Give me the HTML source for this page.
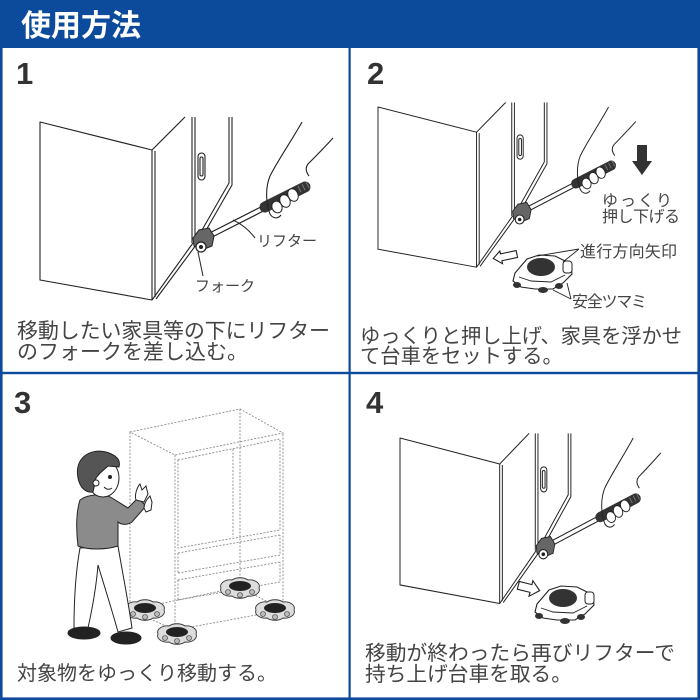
<!DOCTYPE html>
<html><head><meta charset="utf-8"><style>
html,body{margin:0;padding:0;background:#fff;}
svg{display:block;}
text{font-family:"Liberation Sans","Noto Sans CJK JP",sans-serif;}
.jp{font-family:"Noto Sans CJK JP","Liberation Sans",sans-serif;fill:#444;}
.num{font-family:"Liberation Sans",sans-serif;font-weight:bold;fill:#333;font-size:31px;}
</style></head><body>
<svg width="700" height="700" viewBox="0 0 700 700" xmlns="http://www.w3.org/2000/svg">
<defs>
  <g id="cab" fill="none" stroke="#222" stroke-width="1.1" stroke-linejoin="round">
    <path d="M40,122 L152,150 L152,300 L40,280 Z" fill="#fff"/>
    <path d="M155,151 L155,297"/>
    <path d="M152,150 L185,117"/>
    <path d="M192,117 L192,243"/>
    <path d="M195,117 L195,240"/>
    <path d="M229,117 L229,183 L198,237"/>
    <path d="M232,117 L232,185 L201,239"/>
    <path d="M152,300 L193,243"/>
    <path d="M156,299 L196,245"/>
    <rect x="198" y="153" width="7" height="27" rx="3.5"/>
    <rect x="200" y="157" width="3" height="19" rx="1.5"/>
  </g>
  <g id="lift">
    <path d="M302,122 C292,140 278,160 270,176 C265,188 266,204 270,214 C274,220 282,218 286,212 L300,198 C306,190 310,184 308,176 C306,170 306,167 308,164 C316,156 324,148 333,138 L333,110 L302,110 Z" fill="#fff" stroke="none"/>
    <line x1="207" y1="237" x2="266" y2="207" stroke="#222" stroke-width="6" stroke-linecap="round"/>
    <line x1="208" y1="236.5" x2="265" y2="207.5" stroke="#fff" stroke-width="3.6"/>
    <line x1="265" y1="207" x2="305" y2="187" stroke="#333" stroke-width="11" stroke-linecap="round"/>
    <path d="M298,186 l3,6 M302,184 l3,6 M306,182 l3,6" stroke="#777" stroke-width="1"/>
    <path d="M193,238 L199,230 L209,228 L214,236 L212,246 L202,250 L194,246 Z" fill="#666" stroke="#222" stroke-width="1"/>
    <circle cx="201" cy="247" r="5" fill="#fff" stroke="#222" stroke-width="1.2"/>
    <circle cx="201" cy="247" r="2" fill="#222"/>
    <g fill="#fff" stroke="#222" stroke-width="1">
      <ellipse cx="277" cy="207" rx="5" ry="6" transform="rotate(-25 277 207)"/>
      <ellipse cx="285" cy="201" rx="5" ry="6.5" transform="rotate(-25 285 201)"/>
      <ellipse cx="293" cy="195" rx="5" ry="6.5" transform="rotate(-25 293 195)"/>
    </g>
    <path d="M302,122 C292,140 278,160 270,176 C265,188 266,204 270,214 C273,219 278,219 281,215" fill="none" stroke="#222" stroke-width="1.1"/>
    <path d="M333,138 C324,148 316,156 308,164 C305,168 306,172 309,176" fill="none" stroke="#222" stroke-width="1.1"/>
  </g>
  <g id="dolly">
    <path d="M-28,14 L-26,6 L-14,-8 L-2,-12 L14,-11 L24,-6 L30,-2 L31,7 L22,16 L12,22 L-6,22 L-20,20 Z" fill="#fff" stroke="#222" stroke-width="1.1"/>
    <path d="M-22,10 L-10,14 L10,15 L24,8" fill="none" stroke="#222" stroke-width="0.9"/>
    <rect x="22" y="-6" width="9" height="12" rx="3" fill="#fff" stroke="#222" stroke-width="1"/>
    <ellipse cx="0" cy="0" rx="14" ry="9" fill="#333"/>
    <ellipse cx="-24" cy="18" rx="4" ry="3" fill="#333"/>
    <ellipse cx="2" cy="23" rx="5" ry="3" fill="#333"/>
    <ellipse cx="18" cy="19" rx="4" ry="3" fill="#333"/>
  </g>
  <g id="pdolly">
    <path d="M-19,0 C-21,-5 -14,-9 -8,-8 C-4,-11 4,-11 8,-8 C14,-9 21,-5 19,0 C21,5 14,9 8,8 C4,11 -4,11 -8,8 C-14,9 -21,5 -19,0 Z" fill="#ddd" stroke="#333" stroke-width="0.9"/>
    <ellipse cx="0" cy="-2" rx="11" ry="5" fill="#222"/>
    <circle cx="-12" cy="4" r="2.5" fill="#bbb" stroke="#333" stroke-width="0.6"/>
    <circle cx="12" cy="4" r="2.5" fill="#bbb" stroke="#333" stroke-width="0.6"/>
    <circle cx="0" cy="7" r="2.5" fill="#bbb" stroke="#333" stroke-width="0.6"/>
  </g>
</defs>

<!-- header -->
<rect x="0" y="0" width="700" height="48" fill="#0c4a9b"/>
<text x="21" y="36" font-size="30" font-weight="bold" fill="#fff" style="font-family:'Noto Sans CJK JP','Liberation Sans',sans-serif;">使用方法</text>

<!-- panel 1 -->
<text class="num" x="16" y="84">1</text>
<use href="#cab"/>
<use href="#lift"/>
<path d="M233,220 Q246,226 255,238" fill="none" stroke="#222" stroke-width="1"/>
<path d="M198,252 L203,276" fill="none" stroke="#222" stroke-width="1"/>
<text class="jp" x="257" y="246" font-size="15">リフター</text>
<text class="jp" x="195" y="291" font-size="15">フォーク</text>
<text class="jp" x="17" y="338" font-size="21" textLength="313">移動したい家具等の下にリフター</text>
<text class="jp" x="17" y="359" font-size="21">のフォークを差し込む。</text>

<!-- panel 2 -->
<text class="num" x="367" y="84">2</text>
<g transform="translate(378 107) scale(0.88 0.9) translate(-40 -122)">
  <use href="#cab"/>
  <use href="#lift"/>
</g>
<path d="M637,145 H647 V161 H652 L642,175 L632,161 H637 Z" fill="#333"/>
<text class="jp" x="602" y="206" font-size="16" textLength="70">ゆっくり</text>
<text class="jp" x="602" y="222" font-size="16" textLength="78">押し下げる</text>
<path d="M493,256 L501,250 L501,253 L517,253 L517,260 L501,260 L501,263 Z" fill="#fff" stroke="#222" stroke-width="1.1" transform="rotate(-12 505 256)"/>
<use href="#dolly" transform="translate(541 267)"/>
<path d="M579,249 L537,256 M579,249 L563,262" fill="none" stroke="#222" stroke-width="0.9"/>
<path d="M571,299 L567,283 M571,299 L553,290" fill="none" stroke="#222" stroke-width="0.9"/>
<text class="jp" x="580" y="257" font-size="16" textLength="97">進行方向矢印</text>
<text class="jp" x="572" y="307" font-size="16" textLength="75">安全ツマミ</text>
<text class="jp" x="360" y="343" font-size="20.3" textLength="322">ゆっくりと押し上げ、家具を浮かせ</text>
<text class="jp" x="360" y="363" font-size="20.3">て台車をセットする。</text>

<!-- panel 3 -->
<text class="num" x="14" y="413">3</text>
<g fill="none" stroke="#8a8a8a" stroke-width="0.9" stroke-dasharray="2 1.5">
  <path d="M130,432 L240,409 L283,433 L175,455 Z"/>
  <path d="M130,432 L130,610 L175,630 L283,610 L283,433"/>
  <path d="M175,455 L175,630"/>
  <path d="M240,409 L240,587 L130,610 M240,587 L283,610"/>
  <path d="M178,460 L280,439 L280,530 L178,548 Z"/>
  <path d="M233,449 L233,537"/>
  <path d="M178,553 L280,535 M178,573 L280,555 L280,535 M178,553 L178,573"/>
  <path d="M178,580 L280,562 M178,600 L280,582 L280,562 M178,580 L178,600"/>
</g>
<use href="#pdolly" transform="translate(145 610)"/>
<use href="#pdolly" transform="translate(240 588)"/>
<use href="#pdolly" transform="translate(275 610)"/>
<use href="#pdolly" transform="translate(177 634)"/>
<!-- person -->
<g stroke="#222" stroke-width="1">
  <path d="M80,548 L118,546 C122,570 128,600 132,628 L118,632 C112,610 104,585 98,565 C96,590 92,610 88,628 L74,628 C74,600 76,570 80,548 Z" fill="#fff"/>
  <ellipse cx="84" cy="633" rx="16" ry="6" fill="#222"/>
  <ellipse cx="126" cy="638" rx="15" ry="6" fill="#222"/>
  <path d="M80,500 C88,494 104,493 112,498 L128,508 L138,498 L146,506 L132,522 C126,526 120,524 118,522 L118,546 C105,550 88,550 78,546 C76,530 76,512 80,500 Z" fill="#8b8b8b"/>
  <path d="M136,500 C134,494 138,486 140,484 L142,490 L146,486 L148,494 L144,502 Z" fill="#fff"/>
  <path d="M144,508 C144,502 148,498 150,496 L152,502 L151,510 L146,512 Z" fill="#fff"/>
  <ellipse cx="103" cy="478" rx="16" ry="19" fill="#fff"/>
  <path d="M78,478 C74,458 90,448 106,452 C116,455 121,460 119,467 L108,466 C104,470 100,472 96,478 L93,492 C86,493 80,488 78,478 Z" fill="#555"/>
  <circle cx="96" cy="483" r="3" fill="#fff"/>
  <circle cx="110" cy="477" r="1.5" fill="#222"/>
  <path d="M104,487 Q108,491 112,488" fill="none"/>
</g>
<text class="jp" x="17" y="680" font-size="20" textLength="260">対象物をゆっくり移動する。</text>

<!-- panel 4 -->
<text class="num" x="366" y="413">4</text>
<g transform="translate(400 438) scale(0.89 0.93) translate(-40 -122)">
  <use href="#cab"/>
  <use href="#lift"/>
</g>
<path d="M518,584 L531,584 L531,580 L540,588 L531,596 L531,592 L518,592 Z" fill="#fff" stroke="#222" stroke-width="1.1" transform="rotate(14 529 588)"/>
<use href="#dolly" transform="translate(563 598)"/>
<text class="jp" x="365" y="660" font-size="20.7" textLength="310">移動が終わったら再びリフターで</text>
<text class="jp" x="365" y="681" font-size="20.7">持ち上げ台車を取る。</text>

<!-- grid / borders -->
<rect x="0" y="47" width="2.6" height="653" fill="#0c4a9b"/>
<rect x="697.4" y="47" width="2.6" height="653" fill="#0c4a9b"/>
<rect x="0" y="697.4" width="700" height="2.6" fill="#0c4a9b"/>
<rect x="348.5" y="47" width="2.2" height="653" fill="#0c4a9b"/>
<rect x="0" y="371.8" width="700" height="2.4" fill="#0c4a9b"/>
</svg>
</body></html>
